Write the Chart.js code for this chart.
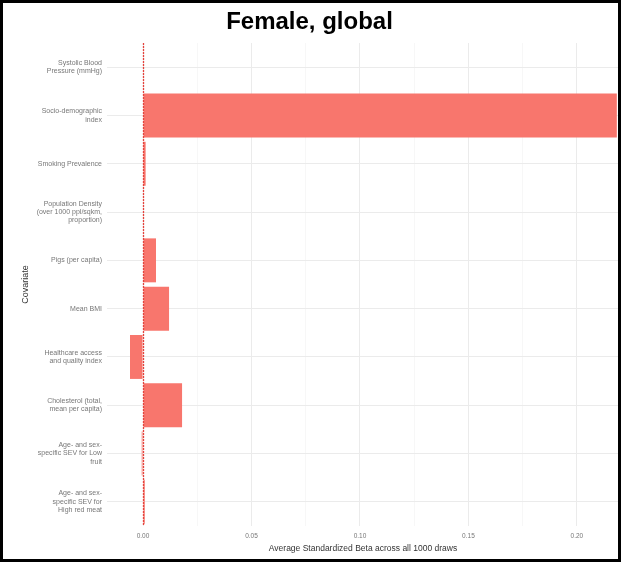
<!DOCTYPE html>
<html>
<head>
<meta charset="utf-8">
<script src="https://cdn.jsdelivr.net/npm/chart.js@4.4.0/dist/chart.umd.min.js"></script>
<style>
  html, body { margin: 0; padding: 0; background: #fff; }
  #wrap { position: relative; width: 621px; height: 565px; }
  #frame {
    position: absolute; left: 0; top: 0; width: 621px; height: 562px;
    border: 3px solid #000; box-sizing: border-box; pointer-events: none;
  }
</style>
</head>
<body>
<div id="wrap">
  <canvas id="chart" width="621" height="565"></canvas>
  <div id="frame"></div>
</div>
<script>
// --- дані ---
const covariates = [
    ['Systolic Blood', 'Pressure (mmHg)'],
    ['Socio-demographic', 'index'],
    'Smoking Prevalence',
    ['Population Density', '(over 1000 ppl/sqkm,', 'proportion)'],
    'Pigs (per capita)',
    'Mean BMI',
    ['Healthcare access', 'and quality index'],
    ['Cholesterol (total,', 'mean per capita)'],
    ['Age- and sex-', 'specific SEV for Low', 'fruit'],
    ['Age- and sex-', 'specific SEV for', 'High red meat']
];
const betaValues = [0.0002, 0.2184, 0.0012, 0.0002, 0.006, 0.012, -0.006, 0.018, -0.0006, 0.0008];
const xMajorTicks = [0, 0.05, 0.10, 0.15, 0.20];
const xMinorTicks = [0.025, 0.075, 0.125, 0.175];

const FONT = "'Liberation Sans', Arial, sans-serif";

function isMajor(v) {
    return xMajorTicks.some(t => Math.abs(t - v) < 1e-9);
}

// пунктирна червона лінія на нулі
const zeroLine = {
    id: 'zeroLine',
    afterDatasetsDraw(chart) {
        const x = chart.scales.x.getPixelForValue(0);
        const { top, bottom } = chart.chartArea;
        const ctx = chart.ctx;
        ctx.save();
        ctx.strokeStyle = '#e5423c';
        ctx.lineWidth = 1.3;
        ctx.setLineDash([2, 1]);
        ctx.beginPath();
        ctx.moveTo(Math.round(x) + 0.5, top);
        ctx.lineTo(Math.round(x) + 0.5, bottom);
        ctx.stroke();
        ctx.restore();
    }
};

new Chart(document.getElementById('chart'), {
    type: 'bar',
    data: {
        labels: covariates,
        datasets: [{
            data: betaValues,
            backgroundColor: '#F8766D',
            borderWidth: 0,
            barPercentage: 0.91,
            categoryPercentage: 1.0
        }]
    },
    options: {
        indexAxis: 'y',
        responsive: false,
        animation: false,
        layout: { padding: { left: 0, right: 2, top: 0, bottom: 0 } },
        plugins: {
            legend: { display: false },
            tooltip: { enabled: false },
            title: {
                display: true,
                text: 'Female, global',
                color: '#000',
                font: { family: FONT, size: 24, weight: 'bold', lineHeight: 1.2 },
                padding: { top: 8, bottom: 6.2 }
            }
        },
        scales: {
            x: {
                type: 'linear',
                min: -0.0166,
                max: 0.2194,
                afterBuildTicks(scale) {
                    scale.ticks = xMajorTicks.concat(xMinorTicks)
                        .sort((a, b) => a - b)
                        .map(v => ({ value: v }));
                },
                afterFit(scale) { scale.height = 39; },
                border: { display: false },
                grid: {
                    drawTicks: false,
                    color: ctx => isMajor(ctx.tick.value) ? '#ebebeb' : '#f5f5f5',
                    lineWidth: ctx => isMajor(ctx.tick.value) ? 1 : 0.8
                },
                ticks: {
                    padding: 6,
                    maxRotation: 0,
                    autoSkip: false,
                    color: '#777',
                    font: { family: FONT, size: 6.5 },
                    callback: v => isMajor(v) ? v.toFixed(2) : ''
                },
                title: {
                    display: true,
                    text: 'Average Standardized Beta across all 1000 draws',
                    color: '#333',
                    font: { family: FONT, size: 8.5, lineHeight: 1.2 },
                    padding: { top: 0, bottom: 11.5 }
                }
            },
            y: {
                offset: true,
                afterFit(scale) { scale.width = 107; },
                border: { display: false },
                grid: { offset: false, drawTicks: false, color: '#ebebeb', lineWidth: 1 },
                ticks: {
                    padding: 5,
                    autoSkip: false,
                    color: '#777',
                    font: { family: FONT, size: 7, lineHeight: 1.2 }
                },
                title: {
                    display: true,
                    text: 'Covariate',
                    color: '#333',
                    font: { family: FONT, size: 9, lineHeight: 1.2 },
                    padding: { top: 20.5, bottom: 0 }
                }
            }
        }
    },
    plugins: [zeroLine]
});
</script>
</body>
</html>
